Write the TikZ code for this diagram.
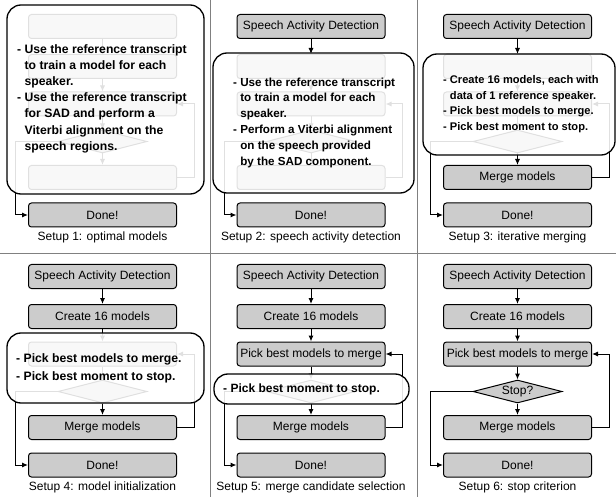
\documentclass[tikz,border=0pt]{standalone}
\usepackage{fontspec}
\setmainfont{Liberation Sans}
\usetikzlibrary{arrows.meta,shapes.geometric}

% one flowchart: id, x centre, y offset, texts of the five upper steps, caption
\newcommand{\setupchart}[9]{%
  \begin{scope}[shift={(#2,#3)}]
    \node[stepbox] (sad#1) at (0,26.5) {#4};
    \node[stepbox] (create#1) at (0,66.5) {#5};
    \node[stepbox] (pick#1) at (0,104) {#6};
    \node[stopbox] (stop#1) at (0,141.5) {#7};
    \node[stepbox] (merge#1) at (0,177.5) {#8};
    \node[stepbox] (done#1) at (0,215) {Done!};
    \node[caption] (cap#1) at (0,237) {#9};
    \draw[flow] (sad#1) -- (create#1);
    \draw[flow] (create#1) -- (pick#1);
    \draw[flow] (pick#1) -- (stop#1);
    \draw[flow] (stop#1) -- (merge#1);
    \draw[flow] (merge#1.east) -- ++(17,0) |- (pick#1.east);
    \draw[flow] (stop#1.west) -- ++(-42,0) |- (done#1.west);
  \end{scope}}

\begin{document}
\begin{tikzpicture}[x=1pt, y=-1pt,
    stepbox/.style={draw=black, line width=1pt, fill=black!20, rounded corners=3pt,
        minimum width=148pt, minimum height=24pt, inner sep=1pt,
        font=\fontsize{12}{14}\selectfont},
    stopbox/.style={draw=black, line width=1pt, fill=black!20, diamond, aspect=3.9,
        minimum width=89pt, minimum height=23pt, inner sep=0pt,
        font=\fontsize{12}{14}\selectfont},
    caption/.style={font=\fontsize{12}{14}\selectfont, inner sep=0pt},
    flow/.style={line width=1pt, -{Latex[length=6pt,width=5pt]}},
    veil/.style={draw=black, line width=1.3pt, rounded corners=14pt,
        fill=white, fill opacity=0.88},
    note/.style 2 args={font=\fontsize{#1}{#2}\selectfont\bfseries,
        anchor=west, inner sep=0pt},
    rule/.style={draw=black!50, line width=0.8pt}]
    \useasboundingbox (0,0) rectangle (616,497);

    % Rasterlinien
    \draw[rule] (210,0) -- (210,497);
    \draw[rule] (417,0) -- (417,497);
    \draw[rule] (0,253) -- (616,253);

    % Setup 1
    \setupchart{1}{102.5}{0}{}{}{}{}{}{Setup 1: optimal models}
    \draw[veil] (7,5) rectangle (204,194);
    \node[note={12.2}{16.2}] (note1) at (17,98.5) {\begin{tabular}{@{}l@{\ }l@{}}
        - & Use the reference transcript\\
          & to train a model for each\\
          & speaker.\\
        - & Use the reference transcript\\
          & for SAD and perform a\\
          & Viterbi alignment on the\\
          & speech regions.
        \end{tabular}};

    % Setup 2
    \setupchart{2}{311}{0}{Speech Activity Detection}{}{}{}{}{Setup 2: speech activity detection}
    \draw[veil] (213,53) rectangle (414,193);
    \node[note={11.65}{15.8}] (note2) at (233,122.5) {\begin{tabular}{@{}l@{\ }l@{}}
        - & Use the reference transcript\\
          & to train a model for each\\
          & speaker.\\
        - & Perform a Viterbi alignment\\
          & on the speech provided\\
          & by the SAD component.
        \end{tabular}};

    % Setup 3
    \setupchart{3}{517.5}{0}{Speech Activity Detection}{}{}{}{Merge models}{Setup 3: iterative merging}
    \draw[veil] (423,54) rectangle (615,155);
    \node[note={11.1}{15.5}] (note3) at (443,104) {\begin{tabular}{@{}l@{\ }l@{}}
        - & Create 16 models, each with\\
          & data of 1 reference speaker.\\
        - & Pick best models to merge.\\
        - & Pick best moment to stop.
        \end{tabular}};

    % Setup 4
    \setupchart{4}{102.5}{250}{Speech Activity Detection}{Create 16 models}{}{}{Merge models}{Setup 4: model initialization}
    \draw[veil] (7,333) rectangle (204,403);
    \node[note={12.2}{17.7}] (note4) at (16,368) {\begin{tabular}{@{}l@{\ }l@{}}
        - & Pick best models to merge.\\
        - & Pick best moment to stop.
        \end{tabular}};

    % Setup 5
    \setupchart{5}{311}{250}{Speech Activity Detection}{Create 16 models}{Pick best models to merge}{}{Merge models}{Setup 5: merge candidate selection}
    \draw[veil] (214,374) rectangle (409,404);
    \node[note={12}{15}] (note5) at (223,389) {- Pick best moment to stop.};

    % Setup 6
    \setupchart{6}{517.5}{250}{Speech Activity Detection}{Create 16 models}{Pick best models to merge}{Stop?}{Merge models}{Setup 6: stop criterion}
\end{tikzpicture}
\end{document}
